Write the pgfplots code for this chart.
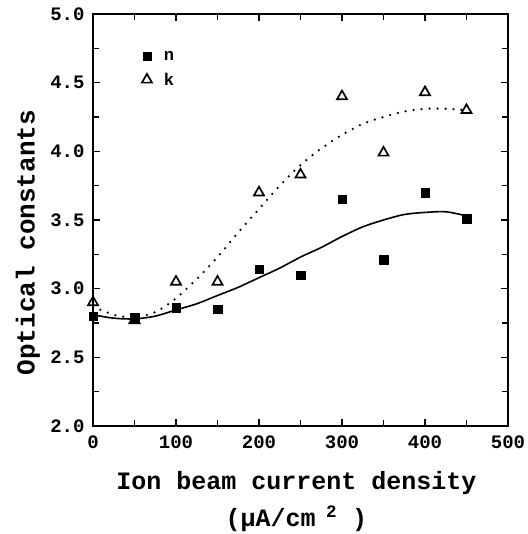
\documentclass[border=0pt]{standalone}
\usepackage{fontspec}
\setmainfont{Liberation Mono}
\usepackage{pgfplots}
\pgfplotsset{compat=1.18}
\begin{document}
\begin{tikzpicture}
\path[use as bounding box] (-93pt,-108pt) rectangle (434pt,426pt);
\begin{axis}[
  at={(0pt,0pt)}, anchor=south west,
  scale only axis, width=415pt, height=412pt,
  xmin=0, xmax=500, ymin=2, ymax=5,
  xtick={0,100,200,300,400,500},
  minor xtick={50,150,250,350,450},
  ytick={2,2.5,3,3.5,4,4.5,5},
  minor ytick={2.25,2.75,3.25,3.75,4.25,4.75},
  tick align=inside,
  major tick length=7pt, minor tick length=6pt,
  every tick/.style={line width=1.2pt, black},
  axis line style={line width=2.2pt},
  /pgf/number format/assume math mode=true,
  yticklabel style={/pgf/number format/fixed, /pgf/number format/fixed zerofill, /pgf/number format/precision=1, font=\fontsize{19}{19}\selectfont\bfseries, xshift=-5pt},
  xticklabel style={font=\fontsize{19}{19}\selectfont\bfseries, yshift=-6pt},
  scaled y ticks=false,
  xlabel={Ion beam current density\\(μA/cm\textsuperscript{ 2} )},
  xlabel style={at={(axis description cs:0.49,0)}, anchor=center, align=center, font=\fontsize{25}{37}\selectfont\bfseries, yshift=-76pt},
  ylabel={Optical constants},
  ylabel style={at={(axis description cs:-0.157,0.445)}, anchor=center, font=\fontsize{26}{26}\selectfont\bfseries},
  legend style={draw=none, fill=none, at={(0.115,0.92)}, anchor=north west, font=\fontsize{17}{17}\selectfont\bfseries, row sep=5pt, column sep=9pt, inner sep=1pt, nodes={inner sep=3pt}},
  legend cell align=left,
]
\addplot[only marks, mark=square*, mark size=4.2pt, black] coordinates {
(0,2.80) (50,2.79) (100,2.86) (150,2.85) (200,3.14) (250,3.10) (300,3.65) (350,3.21) (400,3.70) (450,3.51)};
\addlegendentry{n}
\addplot[only marks, mark=triangle, mark size=5.8pt, line width=1.7pt, black] coordinates {
(0,2.90) (50,2.77) (100,3.05) (150,3.05) (200,3.70) (250,3.83) (300,4.40) (350,3.99) (400,4.43) (450,4.30)};
\addlegendentry{k}
\addplot[forget plot, black, line width=1.6pt, smooth] coordinates {
(0,2.81) (25,2.785) (50,2.78) (75,2.80) (100,2.845) (125,2.89) (150,2.95) (175,3.01) (200,3.08) (225,3.15) (250,3.23) (275,3.30) (300,3.38) (325,3.45) (350,3.50) (375,3.54) (400,3.555) (425,3.56) (450,3.53)};
\addplot[forget plot, black, line width=2.5pt, line cap=round, dash pattern=on 0pt off 8pt, smooth] coordinates {
(0,2.87) (25,2.81) (50,2.79) (75,2.83) (100,2.93) (125,3.07) (150,3.23) (175,3.41) (200,3.58) (225,3.75) (250,3.90) (275,4.02) (300,4.12) (325,4.20) (350,4.25) (375,4.29) (400,4.31) (425,4.31) (450,4.30)};
\end{axis}
\end{tikzpicture}
\end{document}
